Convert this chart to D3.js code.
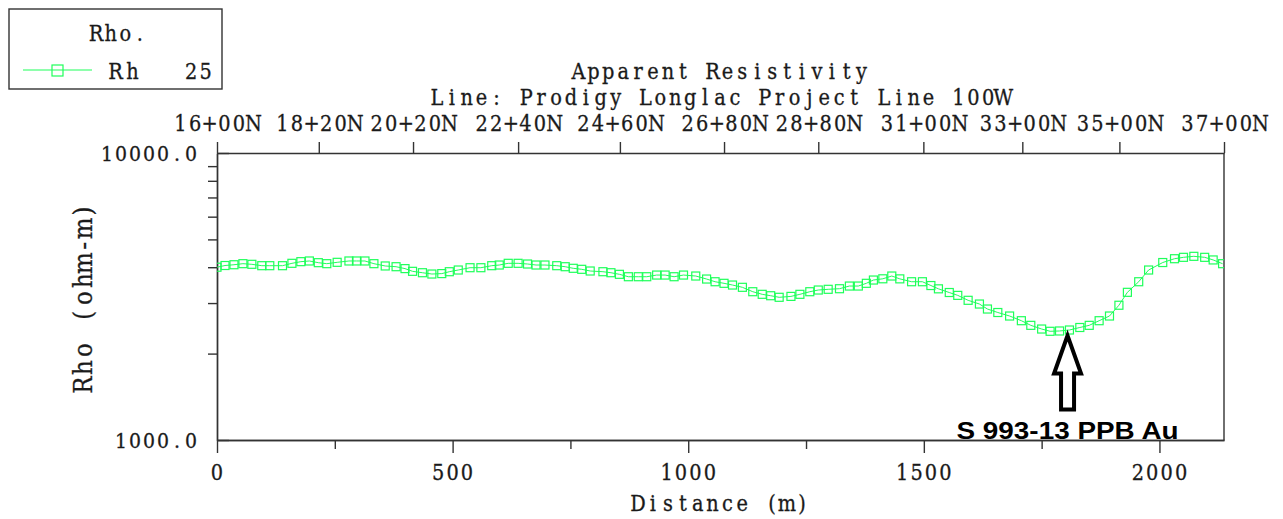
<!DOCTYPE html>
<html>
<head>
<meta charset="utf-8">
<script src="https://cdn.jsdelivr.net/npm/d3@7"></script>
<style>
  body { margin: 0; background: #fff; }
</style>
</head>
<body>
<script>
// Chart values
var titleLines = ["Apparent Resistivity", "Line: Prodigy Longlac Project Line 100W"];
var stationLabels = ["16+00N", "18+20N", "20+20N", "22+40N", "24+60N", "26+80N",
    "28+80N", "31+00N", "33+00N", "35+00N", "37+00N"];
var stationDist = [0, 216, 416, 639, 855, 1076, 1276, 1499, 1709, 1915, 2137];
var xTicks = [0, 500, 1000, 1500, 2000];
var xMinor = [250, 750, 1250, 1750];
var yTicks = [1000, 10000];
var yMinor = [2000, 3000, 4000, 5000, 6000, 7000, 8000, 9000];

var distance = [0, 17, 36, 55, 74, 95, 112, 139, 159, 178,
    196, 215, 233, 255, 280, 296, 314, 333, 357, 380,
    399, 415, 436, 456, 477, 493, 512, 537, 560, 583,
    599, 618, 639, 659, 677, 696, 721, 739, 756, 774,
    792, 819, 836, 854, 873, 894, 912, 933, 951, 970,
    990, 1016, 1039, 1057, 1076, 1094, 1115, 1137, 1157, 1175,
    1193, 1218, 1237, 1258, 1276, 1297, 1321, 1342, 1361, 1378,
    1393, 1413, 1432, 1449, 1474, 1497, 1515, 1531, 1554, 1572,
    1594, 1618, 1635, 1657, 1682, 1707, 1727, 1750, 1768, 1788,
    1809, 1831, 1851, 1872, 1894, 1914, 1932, 1956, 1977, 2007,
    2032, 2051, 2073, 2096, 2114, 2134];
var rho = [4000, 4055, 4080, 4115, 4094, 4049, 4049, 4049, 4127, 4182,
    4205, 4148, 4115, 4160, 4205, 4205, 4205, 4115, 4040, 4016,
    3955, 3870, 3827, 3787, 3800, 3858, 3911, 3984, 3984, 4049,
    4071, 4127, 4127, 4104, 4071, 4071, 4049, 4016, 3965, 3933,
    3880, 3858, 3827, 3778, 3706, 3706, 3706, 3756, 3756, 3706,
    3756, 3727, 3638, 3560, 3515, 3467, 3404, 3286, 3218, 3182,
    3142, 3165, 3218, 3286, 3331, 3350, 3366, 3439, 3439, 3515,
    3609, 3645, 3727, 3643, 3560, 3560, 3453, 3363, 3265, 3191,
    3067, 2977, 2860, 2781, 2704, 2604, 2509, 2436, 2392, 2398,
    2417, 2466, 2509, 2604, 2704, 2948, 3270, 3560, 3911, 4153,
    4282, 4330, 4365, 4330, 4240, 4114];

var legendTitle = "Rho.";
var legendLabel = ["Rh", "25"];
var noteText = "S 993-13 PPB Au";
var noteDist = 1805;
var noteRho = 2330;

var green = "#1eff5a";
var ink = "#333";
var textInk = "#1a1a1a";

var width = 1283, height = 519;
var plot = { left: 217, right: 1224, top: 153, bottom: 440 };

var svg = d3.select("body").append("svg")
    .attr("width", width)
    .attr("height", height);

var x = d3.scaleLinear().domain([0, 2137]).range([plot.left, plot.right]);
var y = d3.scaleLog().domain([1000, 10000]).range([plot.bottom, plot.top]);

// evenly spaced characters, like the plotting package's font
var SX = 0.9;
function monoText(parent, str, px, py, anchor, adv, size, rotate) {
    var n = str.length;
    var x0 = anchor === "middle" ? -n * adv / 2 : anchor === "end" ? -n * adv : 0;
    var xs = Array.from(str, function(c, i) {
        return ((x0 + (i + 0.5) * adv) / SX).toFixed(2);
    });
    return parent.append("text")
        .attr("font-family", "'DejaVu Serif', 'Liberation Serif', serif")
        .attr("transform", "translate(" + px + "," + py + ")" +
            (rotate ? " rotate(" + rotate + ")" : "") + " scale(" + SX + ",1)")
        .attr("x", xs.join(" "))
        .attr("text-anchor", "middle")
        .attr("font-size", size)
        .attr("fill", textInk)
        .attr("stroke", textInk)
        .attr("stroke-width", 0.3)
        .text(str);
}

// Titles
monoText(svg, titleLines[0], 720, 79, "middle", 14.9, 21.5);
monoText(svg, titleLines[1], 720, 105, "middle", 14.9, 21.5);

// Clip for the data
svg.append("clipPath").attr("id", "plotclip")
    .append("rect")
    .attr("x", plot.left).attr("y", plot.top)
    .attr("width", plot.right - plot.left)
    .attr("height", plot.bottom - plot.top);

// Axes
function styleAxis(g) {
    g.selectAll("path, line").attr("stroke", ink).attr("stroke-width", 1.4);
    g.selectAll("text").remove();
}

svg.append("g")
    .attr("transform", "translate(0," + plot.bottom + ")")
    .call(d3.axisBottom(x).tickValues(xMinor).tickSize(9).tickSizeOuter(0))
    .call(styleAxis);
svg.append("g")
    .attr("transform", "translate(0," + plot.bottom + ")")
    .call(d3.axisBottom(x).tickValues(xTicks).tickSize(13).tickSizeOuter(0))
    .call(styleAxis);

svg.append("g")
    .attr("transform", "translate(0," + plot.top + ")")
    .call(d3.axisTop(x).tickValues(stationDist).tickSize(11).tickSizeOuter(0))
    .call(styleAxis);

svg.append("g")
    .attr("transform", "translate(" + plot.left + ",0)")
    .call(d3.axisLeft(y).tickValues(yMinor).tickSize(9).tickSizeOuter(0))
    .call(styleAxis);
var yMajor = svg.append("g")
    .attr("transform", "translate(" + plot.left + ",0)")
    .call(d3.axisLeft(y).tickValues(yTicks).tickSize(12).tickSizeOuter(0))
    .call(styleAxis);
// major y ticks cross the axis
yMajor.selectAll(".tick line").attr("x2", 12);

// right frame
svg.append("line")
    .attr("x1", plot.right).attr("x2", plot.right)
    .attr("y1", plot.top).attr("y2", plot.bottom)
    .attr("stroke", ink).attr("stroke-width", 1.4);

// Tick labels
xTicks.forEach(function(d) {
    monoText(svg, String(d), x(d), 480, "middle", 14.4, 21.5);
});
stationLabels.forEach(function(s, i) {
    monoText(svg, s, x(stationDist[i]), 131, "middle", 14.6, 21.5);
});
yTicks.forEach(function(d) {
    monoText(svg, d3.format(".1f")(d), 198, y(d) + 8, "end", 14, 21);
});

// Axis titles
monoText(svg, "Distance (m)", 720, 511, "middle", 14.9, 21.5);
monoText(svg, "Rho (ohm-m)", 92, 298, "middle", 17.4, 25.5, -90);

// Data
var pts = distance.map(function(d, i) { return [d, rho[i]]; });
var dataG = svg.append("g").attr("clip-path", "url(#plotclip)");

dataG.append("path")
    .datum(pts)
    .attr("fill", "none")
    .attr("stroke", green)
    .attr("stroke-width", 1)
    .attr("d", d3.line().x(function(d) { return x(d[0]); }).y(function(d) { return y(d[1]); }));

dataG.selectAll(".pt")
    .data(pts)
    .enter().append("rect")
    .attr("class", "pt")
    .attr("x", function(d) { return x(d[0]) - 4; })
    .attr("y", function(d) { return y(d[1]) - 4; })
    .attr("width", 8)
    .attr("height", 8)
    .attr("fill", "none")
    .attr("stroke", green)
    .attr("stroke-width", 1.2);

// Annotation arrow
var ax = x(noteDist), ay = y(noteRho) + 1;
var arrow = d3.path();
arrow.moveTo(ax, ay);
arrow.lineTo(ax + 13.5, ay + 38);
arrow.lineTo(ax + 6.5, ay + 38);
arrow.lineTo(ax + 6.5, ay + 74);
arrow.lineTo(ax - 6.5, ay + 74);
arrow.lineTo(ax - 6.5, ay + 38);
arrow.lineTo(ax - 13.5, ay + 38);
arrow.closePath();
svg.append("path")
    .attr("d", arrow.toString())
    .attr("fill", "#fff")
    .attr("stroke", "#000")
    .attr("stroke-width", 4)
    .attr("stroke-linejoin", "miter");

svg.append("text")
    .attr("x", ax)
    .attr("y", y(1000) - 1)
    .attr("text-anchor", "middle")
    .attr("font-family", "'Liberation Sans', Arial, sans-serif")
    .attr("font-weight", "bold")
    .attr("font-size", 24)
    .attr("textLength", 222)
    .attr("lengthAdjust", "spacingAndGlyphs")
    .attr("fill", "#000")
    .text(noteText);

// Legend
var legend = svg.append("g");
legend.append("rect")
    .attr("x", 9).attr("y", 9)
    .attr("width", 213).attr("height", 80)
    .attr("fill", "#fff")
    .attr("stroke", ink)
    .attr("stroke-width", 1.4);
monoText(legend, legendTitle, 118, 41, "middle", 14.6, 21.5);
legend.append("line")
    .attr("x1", 23).attr("x2", 92)
    .attr("y1", 70).attr("y2", 70)
    .attr("stroke", green).attr("stroke-width", 1.2);
legend.append("rect")
    .attr("x", 52).attr("y", 65)
    .attr("width", 11).attr("height", 11)
    .attr("fill", "none")
    .attr("stroke", green).attr("stroke-width", 1.2);
monoText(legend, legendLabel[0], 107, 79, "start", 17, 21.5);
monoText(legend, legendLabel[1], 213, 79, "end", 14.6, 21.5);
</script>
</body>
</html>
